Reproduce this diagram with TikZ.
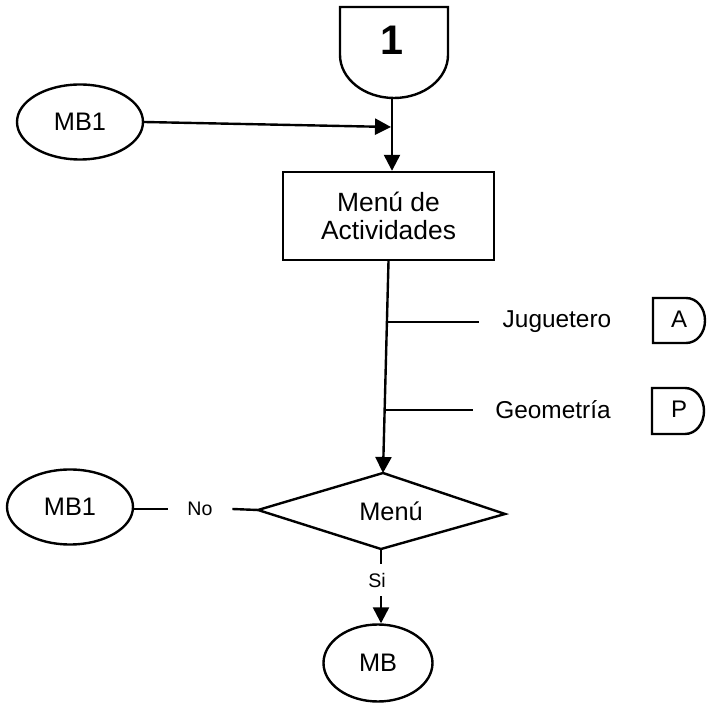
\documentclass[tikz,border=0pt]{standalone}
\usepackage{fontspec}
\setmainfont{Liberation Sans}
\usetikzlibrary{shapes.geometric,arrows.meta}
\begin{document}
\begin{tikzpicture}[x=0.75pt,y=-0.75pt,
  line width=1.8pt,
  term/.style={ellipse,draw,inner sep=0pt,font=\fontsize{19}{20}\selectfont},
  procbox/.style={rectangle,draw,inner sep=0pt,align=center,font=\fontsize{19.8}{20.5}\selectfont},
  lbl/.style={inner sep=0pt,font=\fontsize{18.3}{20}\selectfont},
  smalllbl/.style={font=\fontsize{14.7}{16}\selectfont},
  conntxt/.style={inner sep=0pt,font=\fontsize{18}{19}\selectfont},
  arr/.style={-{Triangle[length=12pt,width=12pt]}},
]
\useasboundingbox (0,0) rectangle (707,705);

% off-page connector 1
\draw (340,7) -- (448,7) -- (448,55)
  .. controls (448,78.7) and (423.8,98) .. (394,98)
  .. controls (364.2,98) and (340,78.7) .. (340,55) -- cycle;
\node[inner sep=0pt,font=\fontsize{31}{32}\bfseries] (one) at (392,40) {1};
\coordinate (c1b) at (392,98);

% top MB1
\node[term,minimum width=94.5pt,minimum height=56.25pt] (mb1) at (80,122) {MB1};
\coordinate (j1) at (391,127);

% process box
\node[procbox,minimum width=158.25pt,minimum height=66pt] (box) at (388.5,216) {Menú de\\Actividades};

% decision diamond
\coordinate (dtop) at (383,473);
\coordinate (dright) at (505,514);
\coordinate (dbottom) at (381,549);
\coordinate (dleft) at (258,510);
\draw (dtop) -- (dright) -- (dbottom) -- (dleft) -- cycle;
\node[inner sep=0pt,font=\fontsize{19}{20}\selectfont] (dtext) at (391,511) {Menú};

% connectors
\draw[arr] (c1b) -- (c1b |- box.north);
\draw[arr] (mb1.east) -- (j1);
\draw[arr] (box.south) -- (dtop);

% branches
\coordinate (b1) at (386,322);
\coordinate (e1) at (479,322);
\coordinate (b2) at (384,410);
\coordinate (e2) at (473,410);
\draw (b1) -- (e1);
\draw (b2) -- (e2);
\node[lbl] (jug) at (557,322) {Juguetero};
\node[lbl] (geo) at (553,410) {Geometría};

% off-page connectors A and P
\draw (653,298) -- (686,298) .. controls (697,298) and (705,308.1) .. (705,320.5)
  .. controls (705,332.9) and (697,343) .. (686,343) -- (653,343) -- cycle;
\node[conntxt] (ca) at (679,319) {A};
\draw (652,388) -- (685,388) .. controls (696,388) and (704,398.5) .. (704,411)
  .. controls (704,423.5) and (696,434) .. (685,434) -- (652,434) -- cycle;
\node[conntxt] (cp) at (679,409) {P};

% bottom MB1 and No
\node[term,minimum width=94.5pt,minimum height=56.25pt] (mb1b) at (70,507) {MB1};
\node[smalllbl,inner xsep=14pt,inner ysep=0pt] (no) at (200,509) {No};
\draw (no.west -| mb1b.east) -- (no.west);
\draw (no.east) -- (dleft);

% Si and MB
\node[smalllbl,inner sep=0pt,minimum height=22.5pt] (si) at (377,580) {Si};
\node[term,minimum width=81.75pt,minimum height=57.75pt] (mb) at (378,663) {MB};
\draw (dbottom) -- (si.north -| dbottom);
\draw[arr] (si.south -| dbottom) -- (mb.north -| dbottom);
\end{tikzpicture}
\end{document}
